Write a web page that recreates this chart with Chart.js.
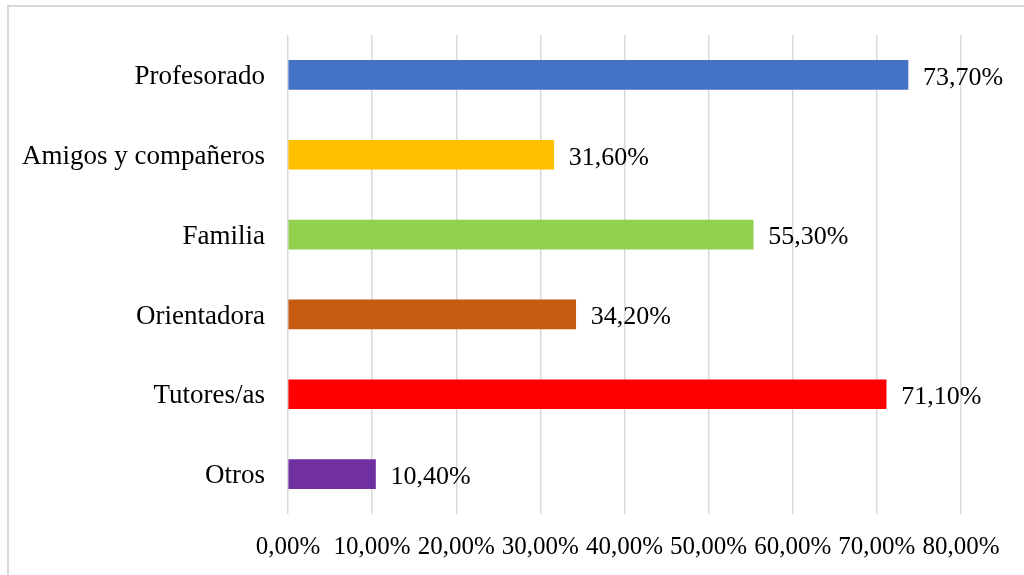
<!DOCTYPE html>
<html>
<head>
<meta charset="utf-8">
<script src="https://cdn.jsdelivr.net/npm/chart.js@4"></script>
<style>
  html, body { margin: 0; padding: 0; background: #fff; overflow: hidden; }
  .frame { position: absolute; left: 7px; top: 5px; width: 1100px; height: 700px; border: 2px solid #d9d9d9; box-sizing: border-box; }
  .wrap { position: absolute; left: 0; top: 0; width: 1024px; height: 575px; }
</style>
</head>
<body>
<div class="frame"></div>
<div class="wrap"><canvas id="chart" width="1024" height="575"></canvas></div>
<script>
const categories = ["Profesorado", "Amigos y compañeros", "Familia", "Orientadora", "Tutores/as", "Otros"];
const values = [73.7, 31.6, 55.3, 34.2, 71.1, 10.4];
const barColors = ["#4472C4", "#FFC000", "#92D050", "#C55A11", "#FF0000", "#7030A0"];
const xTicks = [0, 10, 20, 30, 40, 50, 60, 70, 80];

const font = "'Liberation Serif', 'Times New Roman', serif";

function pct(v) {
  return v.toFixed(2).replace('.', ',') + '%';
}

// value labels next to each bar
const valueLabels = {
  id: 'valueLabels',
  afterDatasetsDraw(chart) {
    const ctx = chart.ctx;
    const meta = chart.getDatasetMeta(0);
    ctx.save();
    ctx.font = '26px ' + font;
    ctx.fillStyle = '#000';
    ctx.textAlign = 'left';
    ctx.textBaseline = 'middle';
    meta.data.forEach((bar, i) => {
      ctx.fillText(pct(values[i]), bar.x + 15, bar.y + 3);
    });
    ctx.restore();
  }
};

new Chart(document.getElementById('chart'), {
  type: 'bar',
  data: {
    labels: categories,
    datasets: [{
      data: values,
      backgroundColor: barColors,
      barThickness: 29,
      categoryPercentage: 1
    }]
  },
  options: {
    indexAxis: 'y',
    responsive: false,
    animation: false,
    layout: { padding: { top: 35, right: 63, left: 0, bottom: 0 } },
    plugins: { legend: { display: false }, tooltip: { enabled: false } },
    scales: {
      x: {
        min: 0,
        max: 80,
        afterBuildTicks: (scale) => { scale.ticks = xTicks.map(v => ({ value: v })); },
        afterFit: (scale) => { scale.height = 61; scale.paddingTop = 0; },
        border: { display: false },
        grid: { color: '#d9d9d9', lineWidth: 1.5, drawTicks: false },
        ticks: {
          padding: 18,
          color: '#000',
          font: { family: font, size: 25 },
          callback: (v) => pct(v)
        }
      },
      y: {
        afterFit: (scale) => { scale.width = 288; scale.paddingTop = 0; scale.paddingBottom = 0; },
        border: { display: false },
        grid: { display: false, drawTicks: false },
        ticks: {
          padding: 23,
          labelOffset: 2,
          color: '#000',
          font: { family: font, size: 27 }
        }
      }
    }
  },
  plugins: [valueLabels]
});
</script>
</body>
</html>
